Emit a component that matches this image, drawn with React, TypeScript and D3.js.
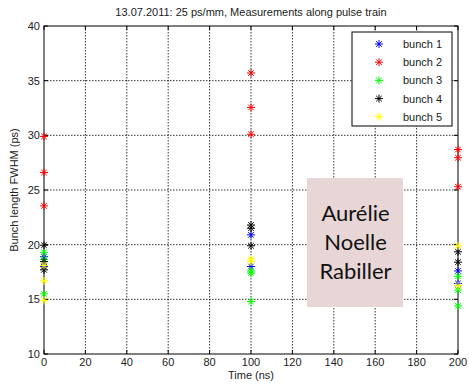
import React from "react";
import * as d3 from "d3";

const times = [0, 100, 200];
const bunchNames = ["bunch 1", "bunch 2", "bunch 3", "bunch 4", "bunch 5"];
const bunchColors = ["#0000ff", "#ff0000", "#00ff00", "#000000", "#ffff00"];
// values per bunch, per time (0, 100, 200 ns)
const bunch1 = [[18.9, 18.0], [20.9, 18.0], [17.6, 16.45]];
const bunch2 = [[29.9, 26.6, 23.55], [35.7, 32.55, 30.1], [28.7, 27.95, 25.3]];
const bunch3 = [[19.3, 18.65, 15.5], [17.6, 17.4, 14.8], [17.1, 15.85, 14.4]];
const bunch4 = [[19.95, 18.45, 17.7], [21.8, 21.5, 19.9], [19.35, 18.4]];
const bunch5 = [[18.1, 16.7, 14.9], [18.7, 18.45], [19.9, 16.25]];
const bunches = [bunch1, bunch2, bunch3, bunch4, bunch5];
const xTicks = [0, 20, 40, 60, 80, 100, 120, 140, 160, 180, 200];
const yTicks = [10, 15, 20, 25, 30, 35, 40];
const nameLines = ["Aurélie", "Noelle", "Rabiller"];

const W = 469, H = 384;
const L = 44, R = 458, T = 26, B = 354;
const font = "Liberation Sans, Arial, sans-serif";

function Star({ x, y, color }: { x: number; y: number; color: string }) {
  const s = 4, d = 2.8;
  return (
    <g stroke={color} strokeWidth={1}>
      <line x1={x - s} y1={y} x2={x + s} y2={y} />
      <line x1={x} y1={y - s} x2={x} y2={y + s} />
      <line x1={x - d} y1={y - d} x2={x + d} y2={y + d} />
      <line x1={x - d} y1={y + d} x2={x + d} y2={y - d} />
    </g>
  );
}

export default function App() {
  const x = d3.scaleLinear().domain([0, 200]).range([L, R]);
  const y = d3.scaleLinear().domain([10, 40]).range([B, T]);
  const legX = 352, legY = 32, legW = 100, legH = 94;
  return (
    <svg width={W} height={H} style={{ position: "absolute", left: 0, top: 0 }}>
      <rect x={0} y={0} width={W} height={H} fill="#fff" />
      {/* grid */}
      {xTicks.slice(1, -1).map((t) => (
        <line key={"gx" + t} x1={x(t)} x2={x(t)} y1={T} y2={B} stroke="#000" strokeWidth={0.8} strokeDasharray="1.5,1.5" />
      ))}
      {yTicks.slice(1, -1).map((t) => (
        <line key={"gy" + t} x1={L} x2={R} y1={y(t)} y2={y(t)} stroke="#000" strokeWidth={0.8} strokeDasharray="1.5,1.5" />
      ))}
      {/* axes box */}
      <rect x={L} y={T} width={R - L} height={B - T} fill="none" stroke="#000" strokeWidth={1} />
      {xTicks.map((t) => (
        <g key={"tx" + t}>
          <line x1={x(t)} x2={x(t)} y1={B} y2={B - 4} stroke="#000" />
          <line x1={x(t)} x2={x(t)} y1={T} y2={T + 4} stroke="#000" />
          <text x={x(t)} y={B + 12} textAnchor="middle" fontFamily={font} fontSize={11} fill="#222">{t}</text>
        </g>
      ))}
      {yTicks.map((t) => (
        <g key={"ty" + t}>
          <line x1={L} x2={L + 4} y1={y(t)} y2={y(t)} stroke="#000" />
          <line x1={R} x2={R - 4} y1={y(t)} y2={y(t)} stroke="#000" />
          <text x={L - 4} y={y(t) + 4} textAnchor="end" fontFamily={font} fontSize={11} fill="#222">{t}</text>
        </g>
      ))}
      {/* data */}
      {bunches.map((b, bi) =>
        b.map((vals, ti) =>
          vals.map((v, vi) => (
            <Star key={`${bi}-${ti}-${vi}`} x={x(times[ti])} y={y(v)} color={bunchColors[bi]} />
          ))
        )
      )}
      {/* title and labels */}
      <text x={(L + R) / 2} y={16} textAnchor="middle" fontFamily={font} fontSize={11} fill="#222">
        13.07.2011: 25 ps/mm, Measurements along pulse train
      </text>
      <text x={(L + R) / 2} y={379} textAnchor="middle" fontFamily={font} fontSize={11} fill="#222">Time (ns)</text>
      <text transform={`translate(18,${(T + B) / 2}) rotate(-90)`} textAnchor="middle" fontFamily={font} fontSize={11} fill="#222">
        Bunch length FWHM (ps)
      </text>
      {/* legend */}
      <rect x={legX} y={legY} width={legW} height={legH} fill="#fff" stroke="#000" strokeWidth={1} />
      {bunchNames.map((n, i) => (
        <g key={n}>
          <Star x={379} y={44 + i * 18.2} color={bunchColors[i]} />
          <text x={403} y={44 + i * 18.2 + 4} fontFamily={font} fontSize={11} fill="#222">{n}</text>
        </g>
      ))}
      {/* name box */}
      <rect x={307} y={178} width={96} height={129} fill="#e8d6d7" />
      {nameLines.map((s, i) => (
        <text key={s} x={355.5} y={221 + i * 29} textAnchor="middle" fontFamily="Lato, sans-serif" fontSize={22} fill="#111">{s}</text>
      ))}
    </svg>
  );
}
